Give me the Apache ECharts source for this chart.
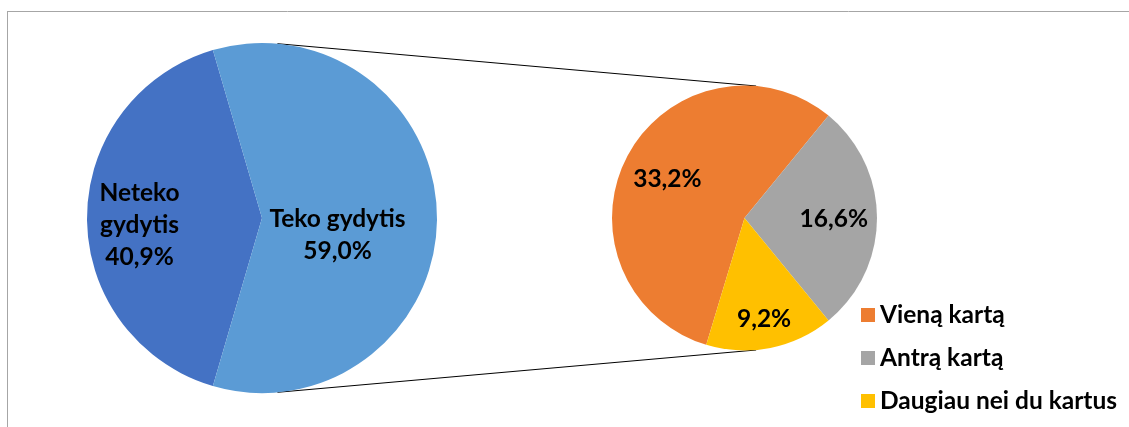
<!DOCTYPE html>
<html><head><meta charset="utf-8">
<script src="https://cdn.jsdelivr.net/npm/echarts@6/dist/echarts.min.js"></script>
<style>html,body{margin:0;padding:0;background:#fff}#c{width:1129px;height:427px}</style>
</head><body><div id="c"></div>
<script>
// ---- data ----
const mainCategories = ['Neteko gydytis', 'Teko gydytis'];
const mainLabelText = ['Neteko\ngydytis', 'Teko gydytis'];
const mainValues = [40.9, 59.0];
const subCategories = ['Vieną kartą', 'Antrą kartą', 'Daugiau nei du kartus'];
const subValues = [33.2, 16.6, 9.2];

// ---- style / layout ----
const mainColors = ['#4472C4', '#5B9BD5'];
const subColors = ['#ED7D31', '#A5A5A5', '#FFC000'];
const FONT = 'Lato, "Noto Sans", sans-serif';
const FS = 24.5;
const C1 = [262, 218], R1 = 175;
const C2 = [744.5, 218], R2 = 132.5;
const mainLabelOffsets = [[-32, 7], [-15, 17]];
const subLabelOffsets = [[-16, -6], [20, 1], [6, 33]];

const fmt = v => v.toFixed(1).replace('.', ',') + '%';
const sum = a => a.reduce((s, x) => s + x, 0);

const mainTotal = sum(mainValues);
const mainStart = 180 * mainValues[1] / mainTotal + 360 * mainValues[0] / mainTotal;
const subTotal = sum(subValues);
const subStart = 180 * subValues[1] / subTotal + 360 * subValues[0] / subTotal;

// external tangent lines between the two circles
const dx = C2[0] - C1[0];
const nx = (R1 - R2) / dx;
const ny = Math.sqrt(1 - nx * nx);
const lineStyle = { stroke: '#000', lineWidth: 1 };

const labelBase = {
  show: true, position: 'inside', color: '#000', fontFamily: FONT,
  fontWeight: 'bold', fontSize: FS, lineHeight: 32, align: 'center',
  textBorderWidth: 0
};

const chart = echarts.init(document.getElementById('c'), null, { renderer: 'canvas' });
chart.setOption({
  animation: false,
  backgroundColor: '#fff',
  legend: {
    orient: 'vertical', left: 856, top: 297,
    data: subCategories,
    icon: 'rect', itemWidth: 14, itemHeight: 14, itemGap: 17,
    textStyle: { fontFamily: FONT, fontWeight: 'bold', fontSize: FS, lineHeight: 26, color: '#000' },
    selectedMode: false
  },
  graphic: [
    { type: 'line', shape: { x1: 7.5, y1: 11, x2: 7.5, y2: 427 }, style: { stroke: '#a6a6a6', lineWidth: 1 }, silent: true },
    { type: 'line', shape: { x1: 7, y1: 11.5, x2: 1129, y2: 11.5 }, style: { stroke: '#a6a6a6', lineWidth: 1 }, silent: true },
    { type: 'line', shape: { x1: C1[0] + R1 * nx, y1: C1[1] - R1 * ny, x2: C2[0] + R2 * nx, y2: C2[1] - R2 * ny }, style: lineStyle, silent: true, z: -1 },
    { type: 'line', shape: { x1: C1[0] + R1 * nx, y1: C1[1] + R1 * ny, x2: C2[0] + R2 * nx, y2: C2[1] + R2 * ny }, style: lineStyle, silent: true, z: -1 }
  ],
  series: [
    {
      type: 'pie', name: 'main', center: C1, radius: [0, R1],
      startAngle: mainStart, clockwise: true, silent: true,
      labelLine: { show: false },
      itemStyle: { borderWidth: 0 },
      emphasis: { disabled: true },
      data: mainCategories.map((n, i) => ({
        name: n, value: mainValues[i],
        itemStyle: { color: mainColors[i] },
        label: Object.assign({}, labelBase, {
          offset: mainLabelOffsets[i],
          formatter: mainLabelText[i] + '\n' + fmt(mainValues[i])
        })
      }))
    },
    {
      type: 'pie', name: 'sub', center: C2, radius: [0, R2],
      startAngle: subStart, clockwise: true, silent: true,
      labelLine: { show: false },
      itemStyle: { borderWidth: 0 },
      emphasis: { disabled: true },
      data: subCategories.map((n, i) => ({
        name: n, value: subValues[i],
        itemStyle: { color: subColors[i] },
        label: Object.assign({}, labelBase, {
          offset: subLabelOffsets[i],
          formatter: fmt(subValues[i])
        })
      }))
    }
  ]
});
</script>
</body></html>
